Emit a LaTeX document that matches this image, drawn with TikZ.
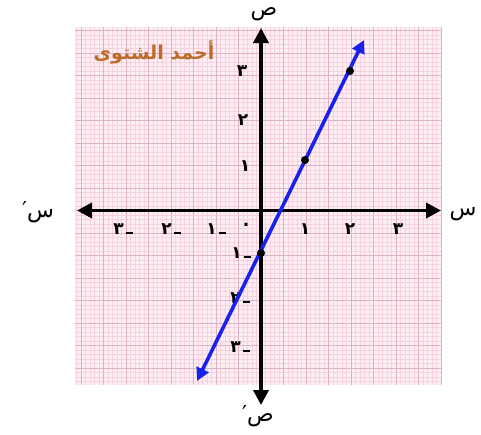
\documentclass[tikz,border=0pt]{standalone}
\usepackage{fontspec}
\usetikzlibrary{arrows.meta}
\TeXXeTstate=1
\newfontfamily\arabicfont[Script=Arabic]{DejaVu Sans}
\definecolor{paperbg}{RGB}{253,238,243}
\definecolor{minorgrid}{RGB}{246,210,222}
\definecolor{majorgrid}{RGB}{222,178,198}
\definecolor{lineblue}{RGB}{24,34,236}
\definecolor{titlebrown}{RGB}{188,108,40}
\newcommand{\negdash}{\hspace{2pt}\rule[0.5pt]{7pt}{1.5pt}}
\tikzset{
  axis/.style={line width=3.6pt, -{Triangle[length=15pt,width=15pt]}, black},
  graphline/.style={line width=3.6pt, lineblue, {Triangle[length=13pt,width=13pt]}-{Triangle[length=13pt,width=13pt]}},
  tick/.style={font=\arabicfont\bfseries\fontsize{17}{17}\selectfont, inner sep=0pt},
  axlabel/.style={font=\arabicfont\fontsize{22}{22}\selectfont, inner sep=0pt},
  pt/.style={circle, fill=black, inner sep=0pt, minimum size=8pt}
}
\begin{document}
\begin{tikzpicture}[x=1pt,y=-1pt]
\useasboundingbox (0,0) rectangle (481,434);
% graph paper
\fill[paperbg] (75,27) rectangle (442,385);
\foreach \k in {-41,...,40}
  \draw[minorgrid, line width=0.4pt] ({261+4.5*\k},27) -- ({261+4.5*\k},385);
\foreach \k in {-40,...,38}
  \draw[minorgrid, line width=0.4pt] (75,{210.5+4.5*\k}) -- (442,{210.5+4.5*\k});
\foreach \k in {-8,...,8}
  \draw[majorgrid, line width=0.7pt] ({261+22.5*\k},27) -- ({261+22.5*\k},385);
\foreach \k in {-8,...,7}
  \draw[majorgrid, line width=0.7pt] (75,{210.5+22.5*\k}) -- (442,{210.5+22.5*\k});
% title
\node[font=\arabicfont\bfseries\fontsize{19}{19}\selectfont, text=titlebrown] (title) at (154,52) {\beginR أحمد الشتوى\endR};
% axes
\coordinate (O) at (261,210.5);
\coordinate (xl) at (77,210.5);
\coordinate (xr) at (441,210.5);
\coordinate (yt) at (261,28);
\coordinate (yb) at (261,405);
\draw[axis] (O) -- (xr);
\draw[axis] (O) -- (xl);
\draw[axis] (O) -- (yt);
\draw[axis] (O) -- (yb);
% axis labels
\node[axlabel] (ytop) at (264,14) {\beginR ص\endR};
\node[axlabel] (ybot) at (258,416) {′\beginR ص\endR};
\node[axlabel] (xleft) at (38,212) {′\beginR س\endR};
\node[axlabel] (xright) at (463,214) {\beginR س\endR};
% tick labels x
\node[tick] (x1) at (305,229) {١};
\node[tick] (x2) at (350,229) {٢};
\node[tick] (x3) at (398,229) {٣};
\node[tick] (x0) at (246,225) {.};
\node[tick] (xm1) at (216,229) {١\negdash};
\node[tick] (xm2) at (171,229) {٢\negdash};
\node[tick] (xm3) at (123,229) {٣\negdash};
% tick labels y
\node[tick] (y3) at (242,71) {٣};
\node[tick] (y2) at (243,120) {٢};
\node[tick] (y1) at (245,166) {١};
\node[tick] (ym1) at (241,253) {١\negdash};
\node[tick] (ym2) at (240,298) {٢\negdash};
\node[tick] (ym3) at (240,347) {٣\negdash};
% graph line
\coordinate (lb) at (197,381);
\coordinate (lt) at (364,40);
\draw[graphline] (lb) -- (lt);
\node[pt] (p0) at (261,253) {};
\node[pt] (p1) at (305,160) {};
\node[pt] (p2) at (350,71) {};
\end{tikzpicture}
\end{document}
